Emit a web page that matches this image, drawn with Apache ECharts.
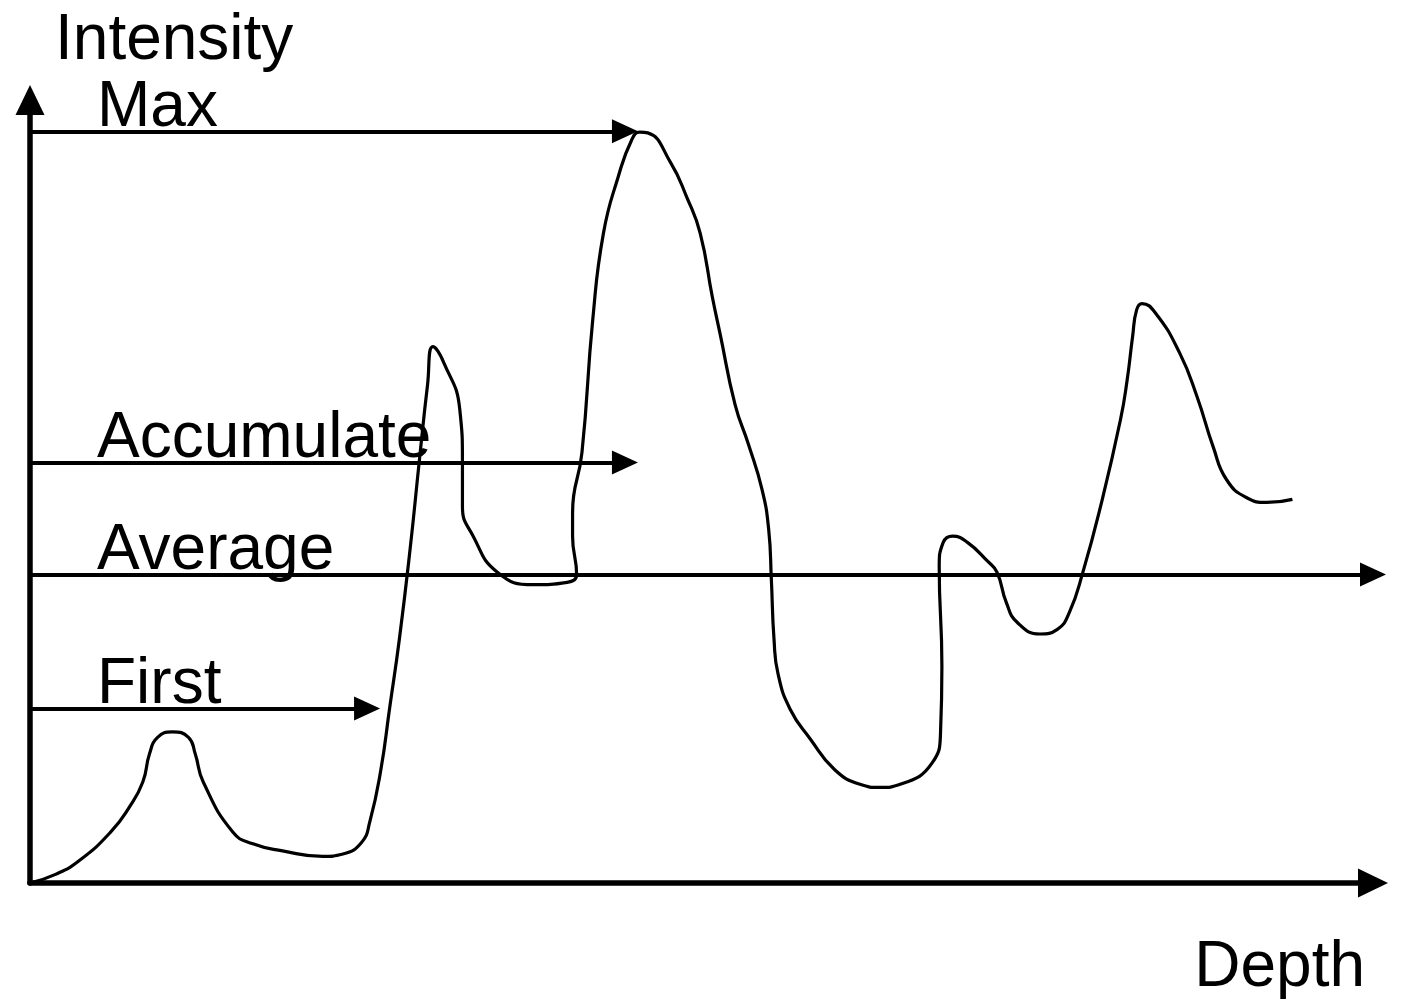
<!DOCTYPE html>
<html>
<head>
<meta charset="utf-8">
<title>Intensity vs Depth</title>
<script src="https://cdn.jsdelivr.net/npm/echarts@6/dist/echarts.min.js"></script>
<style>
  html, body { margin: 0; padding: 0; background: #fff; }
  #chart { width: 1404px; height: 1000px; }
</style>
</head>
<body>
<div id="chart"></div>
<script>
  // hand drawn intensity profile (arbitrary units 0..100)
  const depth = [
    0, 1.9, 3.7, 6.0, 7.4, 8.4, 8.9, 9.5, 10.6, 11.8, 12.3, 12.9, 15.1, 16.6, 18.8, 21.8, 23.3, 24.7, 25.3, 26.1,
    26.8, 27.5, 28.3, 29.0, 29.6, 30.0, 30.8, 32.0, 32.2, 32.2, 33.0, 34.8, 37.5, 40.0, 40.7, 40.4, 40.4, 41.1, 41.9, 42.7,
    43.8, 44.8, 45.4, 46.0, 47.7, 48.9, 49.9, 50.8, 51.4, 52.5, 53.5, 54.5, 55.0, 55.2, 55.4, 55.7, 56.6, 58.1, 59.9, 61.8,
    63.3, 64.8, 67.2, 67.8, 67.9, 67.7, 68.0, 68.7, 69.8, 71.3, 72.0, 72.7, 73.5, 75.2, 76.5, 77.4, 78.4, 79.7, 81.2, 81.7,
    82.1, 82.4, 82.8, 83.8, 85.6, 86.9, 88.1, 89.1, 90.6, 92.1, 94.0
  ]
  const intensity = [
    0, 1.1, 2.9, 6.5, 9.7, 12.9, 16.5, 18.6, 19.3, 18.6, 16.5, 12.9, 6.5, 5.0, 4.1, 3.4, 3.7, 5.2, 7.8, 14.2,
    22.6, 31.1, 42.6, 54.1, 63.6, 68.5, 66.5, 60.5, 53.7, 48.1, 44.3, 39.7, 38.1, 38.4, 39.4, 44.3, 47.3, 55.0, 71.9, 83.0,
    90.2, 94.9, 95.9, 95.8, 92.0, 87.6, 83.0, 74.9, 70.0, 61.1, 56.0, 50.3, 45.2, 38.8, 31.1, 26.7, 22.2, 18.4, 14.5, 12.6,
    12.2, 12.6, 15.4, 19.3, 27.7, 40.4, 43.5, 44.3, 43.5, 41.1, 39.7, 35.8, 33.3, 31.8, 32.4, 34.6, 39.7, 48.0, 59.2, 64.3,
    69.8, 73.2, 74.0, 72.8, 67.7, 62.1, 55.7, 51.5, 49.2, 48.6, 49.0
  ]

  // reference levels drawn as arrows from the intensity axis
  const levelNames = ['Max', 'Accumulate', 'Average', 'First']
  const levelValues = [96.0, 53.7, 39.4, 22.3]
  const levelEnds = [44.3, 44.3, 100, 25.1]

  const fontFamily = '"Liberation Sans", Arial, sans-serif'

  const chart = echarts.init(document.getElementById('chart'), null, { renderer: 'canvas' })

  const profile = depth.map((d, i) => [d, intensity[i]])
  const levelLines = levelNames.map((name, i) => [
    { coord: [0, levelValues[i]], name: name },
    { coord: [levelEnds[i], levelValues[i]] }
  ])

  const axisBase = {
    type: 'value',
    min: 0,
    max: 100,
    axisTick: { show: false },
    axisLabel: { show: false },
    splitLine: { show: false },
    axisLine: {
      show: true,
      symbol: ['none', 'triangle'],
      symbolSize: [29, 30],
      lineStyle: { color: '#000', width: 5.5 }
    }
  }

  chart.setOption({
    backgroundColor: '#fff',
    animation: false,
    grid: {
      left: 30,
      right: 31,
      top: 100,
      bottom: 116
    },
    xAxis: Object.assign({}, axisBase, {
      name: 'Depth',
      nameLocation: 'end',
      nameGap: -8,
      nameTextStyle: {
        fontSize: 64,
        fontFamily: fontFamily,
        color: '#000',
        align: 'right',
        verticalAlign: 'top',
        padding: [53, 0, 0, 0]
      }
    }),
    yAxis: Object.assign({}, axisBase, {
      name: 'Intensity',
      nameLocation: 'end',
      nameGap: 27,
      nameTextStyle: {
        fontSize: 64,
        fontFamily: fontFamily,
        color: '#000',
        align: 'left',
        padding: [0, 0, 0, 25]
      }
    }),
    series: [
      {
        type: 'line',
        data: profile,
        smooth: 0.5,
        showSymbol: false,
        clip: false,
        silent: true,
        lineStyle: { color: '#000', width: 3.2 },
        markLine: {
          silent: true,
          animation: false,
          symbol: ['none', 'triangle'],
          symbolSize: [24, 26],
          lineStyle: { color: '#000', width: 4, type: 'solid' },
          label: {
            show: true,
            position: 'insideStartTop',
            distance: [67, -9],
            formatter: '{b}',
            fontSize: 64,
            fontFamily: fontFamily,
            color: '#000'
          },
          emphasis: { disabled: true },
          data: levelLines
        }
      }
    ]
  })
</script>
</body>
</html>
